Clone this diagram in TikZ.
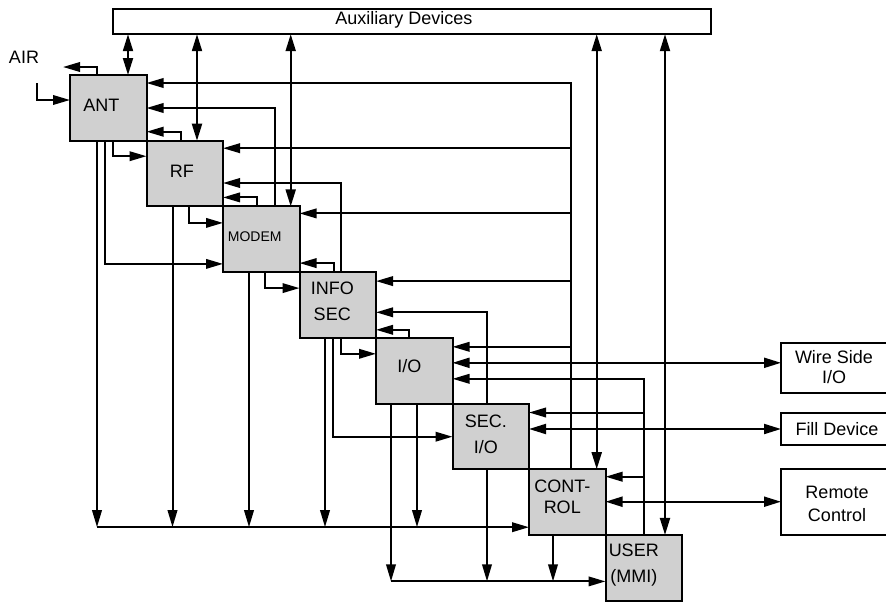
\documentclass[tikz,border=0pt]{standalone}
\usepackage{fontspec}
\setmainfont{Liberation Sans}
\usetikzlibrary{arrows.meta}
\definecolor{boxgray}{RGB}{208,208,208}
\newcommand{\lblfont}{\fontsize{18}{26}\selectfont}
\tikzset{
  blk/.style={draw, fill=boxgray, minimum width=76.5pt, minimum height=65.7pt,
    inner sep=0pt, outer sep=0pt, anchor=north west},
  ext/.style={draw, fill=white, inner sep=0pt, outer sep=0pt, anchor=north west},
  arr/.style={-{Triangle[length=17pt,width=9.5pt]}},
  both/.style={{Triangle[length=17pt,width=10pt]}-{Triangle[length=17pt,width=10pt]}},
  every label/.style={font=\lblfont, align=center, inner sep=0pt},
}
\begin{document}
\begin{tikzpicture}[x=1pt, y=-1pt, line width=2pt, font=\lblfont]
  \useasboundingbox (0,0) rectangle (886,603);

  % cascade of blocks
  \node[blk, label={[xshift=-7pt,yshift=3pt]center:ANT}] (ant) at (70,75) {};
  \node[blk, label={[xshift=-3pt,yshift=2.5pt]center:RF}] (rf) at (ant.south east) {};
  \node[blk, label={[xshift=-6.5pt,yshift=3pt,font=\fontsize{14}{16}\selectfont]center:MODEM}] (modem) at (rf.south east) {};
  \node[blk, label={[xshift=-5.5pt,yshift=4pt]center:INFO\\SEC}] (infosec) at (modem.south east) {};
  \node[blk, label={[xshift=-5pt,yshift=4.5pt]center:I/O}] (io) at (infosec.south east) {};
  \node[blk, label={[xshift=-5pt,yshift=2pt]center:SEC.\\I/O}] (secio) at (io.south east) {};
  \node[blk, label={[xshift=-5pt,yshift=5pt,font=\fontsize{18}{21}\selectfont]center:CONT-\\ROL}] (ctl) at (secio.south east) {};
  \node[blk, label={[xshift=-10pt,yshift=3pt]center:USER\\(MMI)}] (user) at (ctl.south east) {};

  % outside devices
  \node[ext, minimum width=598pt, minimum height=25.5pt,
        label={[xshift=-8pt,yshift=2pt]center:Auxiliary Devices}] (aux) at (113,8.7) {};
  \node[ext, minimum width=112pt, minimum height=50pt,
        label={[xshift=-3pt,yshift=0.5pt,font=\fontsize{18}{20}\selectfont]center:Wire Side\\I/O}] (wire) at (781,342.7) {};
  \node[ext, minimum width=112pt, minimum height=32.3pt,
        label={center:Fill Device}] (filldev) at (781,412.7) {};
  \node[ext, minimum width=112pt, minimum height=65.5pt,
        label={[yshift=-2pt,font=\fontsize{18}{22.5}\selectfont]center:Remote\\Control}] (remote) at (781,469) {};
  \node (air) at (24,57) {AIR};

  \coordinate (airout) at (63,67);
  \coordinate (airin) at (37,83);
  \coordinate (ctlbus) at ([xshift=42pt]ctl.north west);
  \coordinate (userbus) at ([xshift=38.5pt]user.north west);
  \coordinate (busA) at ([yshift=-58pt]ctl.north west);
  \coordinate (busB) at ([yshift=-46.5pt]user.north west);

  % air side
  \draw[arr] ([xshift=27pt]ant.north west) |- (airout);
  \draw[arr] (airin) |- ([yshift=-25pt]ant.north west);

  % auxiliary devices
  \draw[both] ([xshift=58pt]ant.north west) -- ([xshift=58pt]ant.north west |- aux.south);
  \draw[both] ([xshift=50.5pt]rf.north west) -- ([xshift=50.5pt]rf.north west |- aux.south);
  \draw[both] ([xshift=67.7pt]modem.north west) -- ([xshift=67.7pt]modem.north west |- aux.south);
  \draw[both] ([xshift=67.7pt]ctl.north west) -- ([xshift=67.7pt]ctl.north west |- aux.south);
  \draw[both] ([xshift=59.5pt]user.north west) -- ([xshift=59.5pt]user.north west |- aux.south);

  % control lines
  \draw[arr] (ctlbus) |- ([yshift=-8pt]ant.north east);
  \draw[arr] ([yshift=-7.5pt]rf.north east -| ctlbus) -- ([yshift=-7.5pt]rf.north east);
  \draw[arr] ([yshift=-7pt]modem.north east -| ctlbus) -- ([yshift=-7pt]modem.north east);
  \draw[arr] ([yshift=-9pt]infosec.north east -| ctlbus) -- ([yshift=-9pt]infosec.north east);
  \draw[arr] ([yshift=-9pt]io.north east -| ctlbus) -- ([yshift=-9pt]io.north east);

  % user lines
  \draw[arr] (userbus) |- ([yshift=-41pt]io.north east);
  \draw[arr] ([yshift=-9pt]secio.north east -| userbus) -- ([yshift=-9pt]secio.north east);
  \draw[arr] ([yshift=-7.5pt]ctl.north east -| userbus) -- ([yshift=-7.5pt]ctl.north east);

  % back to the previous block
  \draw[arr] ([xshift=34pt]rf.north west) |- ([yshift=9pt]ant.south east);
  \draw[arr] ([xshift=34pt]modem.north west) |- ([yshift=9pt]rf.south east);
  \draw[arr] ([xshift=34pt]infosec.north west) |- ([yshift=9pt]modem.south east);
  \draw[arr] ([xshift=33pt]io.north west) |- ([yshift=8pt]infosec.south east);
  \draw[arr] ([xshift=52pt]modem.north west) |- ([yshift=-33pt]ant.north east);
  \draw[arr] ([xshift=41.2pt]infosec.north west) |- ([yshift=-42.3pt]rf.north east);
  \draw[arr] ([xshift=34.5pt]secio.north west) |- ([yshift=-40.2pt]infosec.north east);

  % on to the next block
  \draw[arr] ([xshift=42.7pt]ant.south west) |- ([yshift=-15.5pt]rf.north west);
  \draw[arr] ([xshift=42.5pt]rf.south west) |- ([yshift=-16.5pt]modem.north west);
  \draw[arr] ([xshift=42pt]modem.south west) |- ([yshift=-16pt]infosec.north west);
  \draw[arr] ([xshift=41.5pt]infosec.south west) |- ([yshift=-16pt]io.north west);
  \draw[arr] ([xshift=35pt]ant.south west) |- ([yshift=-57.5pt]modem.north west);
  \draw[arr] ([xshift=33.5pt]infosec.south west) |- ([yshift=-33.2pt]secio.north west);

  % bus into CONT-ROL
  \draw[arr] ([xshift=27pt]ant.south west |- busA) -- (busA);
  \draw[arr] ([xshift=27pt]ant.south west) -- ([xshift=27pt]ant.south west |- busA);
  \draw[arr] ([xshift=26pt]rf.south west) -- ([xshift=26pt]rf.south west |- busA);
  \draw[arr] ([xshift=26pt]modem.south west) -- ([xshift=26pt]modem.south west |- busA);
  \draw[arr] ([xshift=25.5pt]infosec.south west) -- ([xshift=25.5pt]infosec.south west |- busA);
  \draw[arr] ([xshift=41pt]io.south west) -- ([xshift=41pt]io.south west |- busA);

  % bus into USER
  \draw[arr] ([xshift=15pt]io.south west |- busB) -- (busB);
  \draw[arr] ([xshift=15pt]io.south west) -- ([xshift=15pt]io.south west |- busB);
  \draw[arr] ([xshift=34.5pt]secio.south west) -- ([xshift=34.5pt]secio.south west |- busB);
  \draw[arr] ([xshift=24pt]ctl.south west) -- ([xshift=24pt]ctl.south west |- busB);

  % outside links
  \draw[both] ([yshift=-25pt]io.north east) -- ([yshift=-25pt]io.north east -| wire.west);
  \draw[both] ([yshift=-25.5pt]secio.north east) -- ([yshift=-25.5pt]secio.north east -| filldev.west);
  \draw[both] ([yshift=-32.5pt]ctl.north east) -- ([yshift=-32.5pt]ctl.north east -| remote.west);
\end{tikzpicture}
\end{document}
